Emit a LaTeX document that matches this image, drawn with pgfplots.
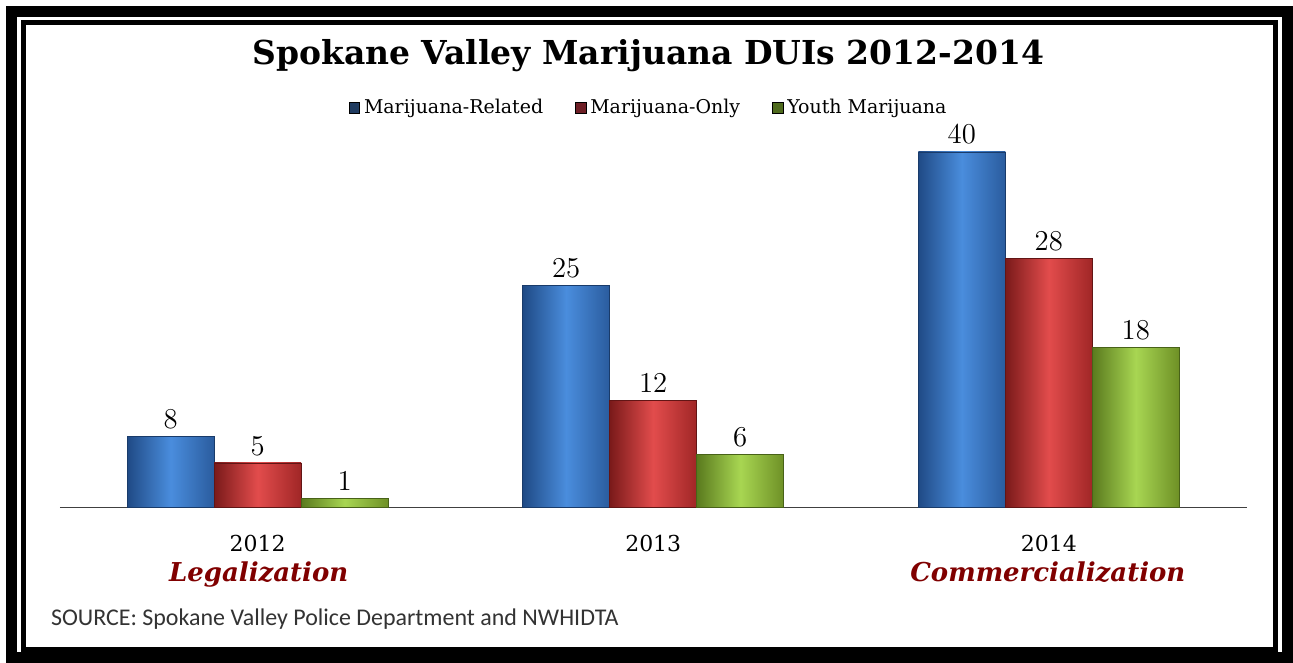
\documentclass[border=0pt]{standalone}
\usepackage{fontspec}
\setmainfont{DejaVu Serif}
\newfontfamily\srcfont{Carlito}
\usepackage{pgfplots}
\pgfplotsset{compat=1.18}

\definecolor{bluedark}{HTML}{1F4A85}
\definecolor{bluemid}{HTML}{4A8DDD}
\definecolor{blueright}{HTML}{2A5C9E}
\definecolor{reddark}{HTML}{7A1A1A}
\definecolor{redmid}{HTML}{E24C4C}
\definecolor{redright}{HTML}{A02626}
\definecolor{greendark}{HTML}{5A7A1E}
\definecolor{greenmid}{HTML}{A8D652}
\definecolor{greenright}{HTML}{6E9026}
\definecolor{sqblue}{HTML}{1F3B60}
\definecolor{sqred}{HTML}{6E1F26}
\definecolor{sqgreen}{HTML}{4F6B1E}
\definecolor{subred}{HTML}{800000}

\pgfplotsset{
    bluebar/.style={forget plot, bar shift=-0.22, draw=bluedark!80!black, line width=0.3pt,
        left color=bluedark, right color=blueright, middle color=bluemid},
    redbar/.style={forget plot, bar shift=0, draw=reddark!80!black, line width=0.3pt,
        left color=reddark, right color=redright, middle color=redmid},
    greenbar/.style={forget plot, bar shift=0.22, draw=greendark!80!black, line width=0.3pt,
        left color=greendark, right color=greenright, middle color=greenmid},
}

\begin{document}
\begin{tikzpicture}
\begin{scope}[x=0.5pt,y=-0.5pt]
\path[use as bounding box] (0,0) rectangle (1293,662);
\fill[white] (0,0) rectangle (1293,662);
\end{scope}

\begin{axis}[
    at={(30pt,-254pt)}, anchor=south west,
    scale only axis, width=594pt, height=186.9pt,
    xmin=-0.5, xmax=2.5, ymin=0, ymax=42,
    axis x line=bottom, axis y line=none,
    axis line style={-, draw=black!75, line width=0.75pt},
    xtick={0,1,2}, xticklabels={2012,2013,2014},
    major tick length=0pt, ytick=\empty,
    xticklabel style={font=\fontsize{11}{12}\selectfont, yshift=-10.5pt},
    clip=false,
    ybar, bar width=0.22,
    nodes near coords,
    nodes near coords style={font=\fontsize{14.5}{15}\selectfont, text=black, yshift=0.5pt},
    legend image code/.code={\fill[#1] (0pt,-2.6pt) rectangle (5.2pt,2.6pt);},
    legend style={at={(0.497,1.07)}, anchor=center, draw=none, fill=none,
        legend columns=3, font=\fontsize{9.5}{10}\selectfont,
        /tikz/every even column/.append style={column sep=14pt}},
]
% Marijuana-Related
\addplot[bluebar] coordinates {(0,8)};
\addplot[bluebar] coordinates {(1,25)};
\addplot[bluebar] coordinates {(2,40)};
% Marijuana-Only
\addplot[redbar] coordinates {(0,5)};
\addplot[redbar] coordinates {(1,12)};
\addplot[redbar] coordinates {(2,28)};
% Youth Marijuana
\addplot[greenbar] coordinates {(0,1)};
\addplot[greenbar] coordinates {(1,6)};
\addplot[greenbar] coordinates {(2,18)};
\addlegendimage{fill=sqblue}
\addlegendentry{Marijuana-Related}
\addlegendimage{fill=sqred}
\addlegendentry{Marijuana-Only}
\addlegendimage{fill=sqgreen}
\addlegendentry{Youth Marijuana}
\end{axis}

\begin{scope}[x=0.5pt,y=-0.5pt]
\draw[line width=5.5pt] (11.5,11.5) rectangle (1289,658);
\draw[line width=2.5pt] (23.5,22.5) rectangle (1276.5,650.5);
\node[anchor=base, font=\fontsize{16.5}{19}\selectfont\bfseries] at (649,65)
    {Spokane Valley Marijuana DUIs 2012-2014};
\node[anchor=base, text=subred, font=\fontsize{13}{15}\selectfont\bfseries\itshape] at (259,582)
    {Legalization};
\node[anchor=base, text=subred, font=\fontsize{13}{15}\selectfont\bfseries\itshape] at (1049,582)
    {Commercialization};
\node[anchor=base west, text=black!80, font=\srcfont\fontsize{12}{14}\selectfont] at (44,626)
    {SOURCE: Spokane Valley Police Department and NWHIDTA};
\end{scope}
\end{tikzpicture}
\end{document}
